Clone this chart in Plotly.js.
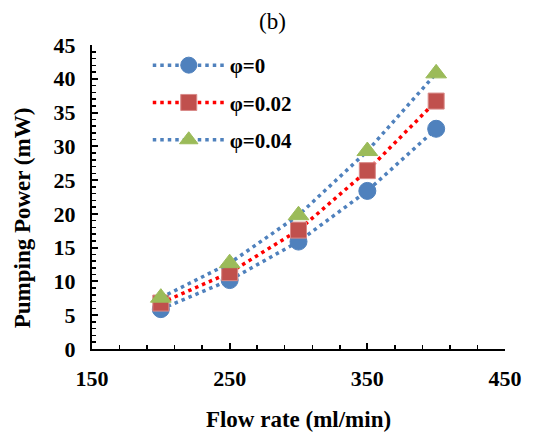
<!DOCTYPE html>
<html>
<head>
<meta charset="utf-8">
<script src="https://cdn.plot.ly/plotly-3.0.1.min.js"></script>
<style>html,body{margin:0;padding:0;background:#fff}</style>
</head>
<body>
<div id="chart" style="width:543px;height:433px"></div>
<script>
// Pumping power versus flow rate for three nanofluid volume fractions
const flowRate = [200, 250, 300, 350, 400];
const power_phi0 = [5.9, 10.2, 15.9, 23.4, 32.6];
const power_phi002 = [6.8, 11.3, 17.6, 26.4, 36.7];
const power_phi004 = [7.6, 12.7, 19.8, 29.3, 40.8];
const seriesNames = ['φ=0', 'φ=0.02', 'φ=0.04'];

const serif = 'Liberation Serif, Times New Roman, serif';

function series(name, y, lineColor, symbol, fill, edge, size) {
  return {
    x: flowRate, y: y, name: name, legendgroup: name,
    type: 'scatter', mode: 'lines+markers',
    line: {color: lineColor, width: 3.5, dash: '3.5px,4px'},
    marker: {symbol: symbol, size: size, color: fill, line: {color: edge, width: 1}}
  };
}

const data = [
  series(seriesNames[0], power_phi0, '#4F81BD', 'circle', '#4F81BD', '#4F81BD', 17),
  series(seriesNames[1], power_phi002, '#FF0000', 'square', '#C0504D', '#D98A88', 16),
  series(seriesNames[2], power_phi004, '#4F81BD', 'triangle-up', '#9BBB59', '#9BBB59', 18)
];

const layout = {
  width: 543, height: 433,
  margin: {l: 92, r: 38, t: 45, b: 84},
  paper_bgcolor: '#fff', plot_bgcolor: '#fff',
  font: {family: serif, size: 22, color: '#000'},
  showlegend: true,
  legend: {
    x: 0.135, y: 1.0, xanchor: 'left', yanchor: 'top',
    bgcolor: 'rgba(0,0,0,0)', tracegroupgap: 7,
    font: {family: serif, size: 21, color: '#000', weight: 'bold'},
    itemwidth: 72
  },
  xaxis: {
    range: [150, 450], tick0: 150, dtick: 100,
    showgrid: false, zeroline: false,
    showline: true, linecolor: '#000', linewidth: 2,
    ticks: 'inside', ticklen: 6, tickwidth: 2, tickcolor: '#000',
    minor: {dtick: 20, tick0: 150, ticks: 'inside', ticklen: 4, tickwidth: 1.5, tickcolor: '#000', showgrid: false},
    tickfont: {family: serif, size: 22, color: '#000', weight: 'bold'},
    ticklabelstandoff: 9,
    title: {text: 'Flow rate (ml/min)', font: {family: serif, size: 23, weight: 'bold'}, standoff: 20}
  },
  yaxis: {
    range: [0, 45], tick0: 0, dtick: 5,
    showgrid: false, zeroline: false,
    showline: true, linecolor: '#000', linewidth: 2,
    ticks: 'inside', ticklen: 6, tickwidth: 2, tickcolor: '#000',
    minor: {dtick: 1, ticks: 'inside', ticklen: 4, tickwidth: 1.5, tickcolor: '#000', showgrid: false},
    tickfont: {family: serif, size: 22, color: '#000', weight: 'bold'},
    ticklabelstandoff: 10
  },
  annotations: [
    {text: '(b)', xref: 'paper', yref: 'paper', x: 0.437, y: 1, yshift: 24,
     xanchor: 'center', yanchor: 'middle', showarrow: false,
     font: {family: serif, size: 23, color: '#000'}},
    {text: 'Pumping Power (mW)', xref: 'paper', yref: 'paper', x: 0, y: 0.43,
     xshift: -70, xanchor: 'center', yanchor: 'middle', textangle: -90, showarrow: false,
     font: {family: serif, size: 23, color: '#000', weight: 'bold'}}
  ]
};

Plotly.newPlot('chart', data, layout, {displayModeBar: false, staticPlot: true});
</script>
</body>
</html>
